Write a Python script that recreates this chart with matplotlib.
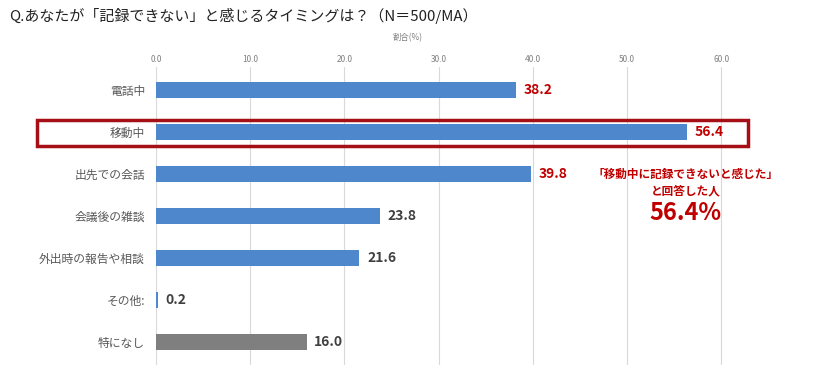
import matplotlib
matplotlib.use('Agg')
import matplotlib.pyplot as plt
import matplotlib.transforms as mtransforms
from matplotlib.patches import Rectangle

plt.rcParams['font.family'] = ['Noto Sans CJK JP', 'DejaVu Sans']

# data
categories = ['電話中', '移動中', '出先での会話', '会議後の雑談', '外出時の報告や相談', 'その他:', '特になし']
values = [38.2, 56.4, 39.8, 23.8, 21.6, 0.2, 16.0]
bar_colors = ['#4F87CC'] * 6 + ['#7F7F7F']
label_colors = ['#C00000', '#C00000', '#C00000', '#404040', '#404040', '#404040', '#404040']
xticks = [0, 10, 20, 30, 40, 50, 60]
highlight = 1

fig = plt.figure(figsize=(8.27, 3.73), dpi=100)
ax = fig.add_axes([156 / 827, 1 - 365 / 373, (740 - 156) / 827, (365 - 67) / 373])

y = list(range(len(categories)))
ax.barh(y, values, height=0.37, color=bar_colors, zorder=2)
ax.set_ylim(len(categories) - 0.45, -0.55)
ax.set_xlim(0, 62)

ax.set_xticks(xticks)
ax.set_xticklabels([f'{t:.1f}' for t in xticks], fontsize=6, color='#808080')
ax.xaxis.tick_top()
ax.tick_params(axis='x', length=0, pad=2)
ax.grid(axis='x', color='#D9D9D9', linewidth=0.8, zorder=0)

ax.set_yticks(y)
ax.set_yticklabels(categories, fontsize=8.5, color='#595959')
ax.tick_params(axis='y', length=0, pad=8)

for s in ax.spines.values():
    s.set_visible(False)

for yi, v, c in zip(y, values, label_colors):
    ax.text(v + 0.8, yi, f'{v:.1f}', va='center', ha='left', fontsize=10,
            fontweight='bold', color=c)

ax.text(0.43, 1.1, '割合(%)', transform=ax.transAxes, fontsize=6,
        color='#808080', ha='center', va='center')

# highlight box around 移動中
trans = mtransforms.blended_transform_factory(ax.transAxes, ax.transData)
ax.add_patch(Rectangle((-0.204, highlight - 0.29), 1.218, 0.62, transform=trans,
                       fill=False, edgecolor='#A50F15', linewidth=2.5,
                       clip_on=False, zorder=3))

# callout
cx = 56.2
ax.text(cx, 2.02, '「移動中に記録できないと感じた」', ha='center', va='center',
        fontsize=8.4, fontweight='bold', color='#C00000')
ax.text(cx, 2.4, 'と回答した人', ha='center', va='center',
        fontsize=8.4, fontweight='bold', color='#C00000')
ax.text(cx, 2.93, '56.4%', ha='center', va='center',
        fontsize=17, fontweight='bold', color='#C00000')

fig.text(9 / 827, 1 - 16 / 373, 'Q.あなたが「記録できない」と感じるタイミングは？（N＝500/MA）',
         fontsize=10.8, color='#222222', ha='left', va='center')

fig.savefig('out.png', dpi=100)
